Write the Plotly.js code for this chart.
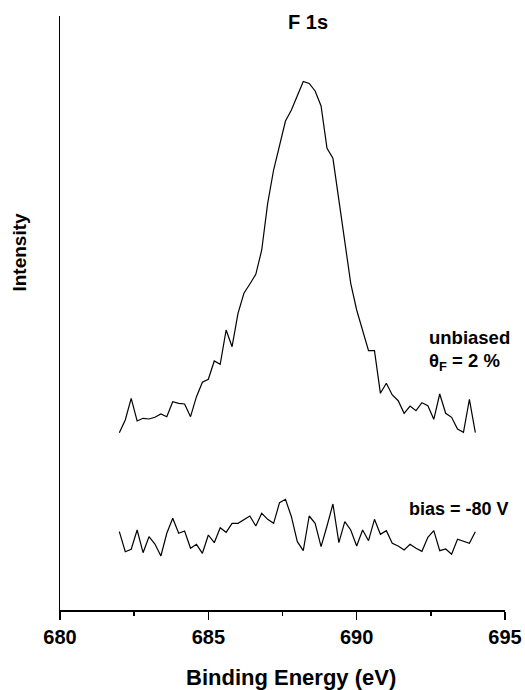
<!DOCTYPE html>
<html>
<head>
<meta charset="utf-8">
<script src="https://cdn.plot.ly/plotly-3.0.1.min.js"></script>
<style>html,body{margin:0;padding:0;background:#fff;}#chart{width:525px;height:690px;}</style>
</head>
<body>
<div id="chart"></div>
<script>
const energy = [682.0,682.2,682.4,682.6,682.8,683.0,683.2,683.4,683.6,683.8,
  684.0,684.2,684.4,684.6,684.8,685.0,685.2,685.4,685.6,685.8,
  686.0,686.2,686.4,686.6,686.8,687.0,687.2,687.4,687.6,687.8,
  688.0,688.2,688.4,688.6,688.8,689.0,689.2,689.4,689.6,689.8,
  690.0,690.2,690.4,690.6,690.8,691.0,691.2,691.4,691.6,691.8,
  692.0,692.2,692.4,692.6,692.8,693.0,693.2,693.4,693.6,693.8,694.0];

const unbiased = [177.3,190,211.7,189,191.7,191,192.7,196,193.3,208.3,
  206.7,206,193.3,213.3,227.7,230.7,249,245.7,280,263.3,
  296.7,316.7,326,335.7,360,406.7,440,465,489,500,
  515,528.5,526.5,519,504,461.7,451.7,410,373.3,326.7,
  300,280,259.3,259.3,216.7,226.7,215,209.3,196.7,204,
  199.3,207.3,204.3,190.7,216,196.7,192.7,181,177.7,210.7,177.3];

const biased = [78.3,58.3,60.7,80,57.3,73.3,66,54,76.7,91.7,
  76.7,79,61.7,65.7,56.7,75,67.3,82.3,77.7,86.7,
  86.7,90,94,84,96.7,90.7,86.7,107.3,110.7,93.3,
  68.3,59.3,94,86.7,63.3,84,106,67.3,88.3,80,
  64,80,69.3,90.7,75.7,79.3,66.7,64,60,65.7,
  61.7,58.7,72.7,79.3,59.3,61,55.7,70.7,69,66.7,78.3];

const xTicks = [680, 685, 690, 695];
const labels = {
  title: "F 1s",
  xTitle: "Binding Energy (eV)",
  yTitle: "Intensity",
  unbiased1: "unbiased",
  unbiased2: "θ<sub>F</sub> = 2 %",
  biased: "bias = -80 V"
};

const font = "Liberation Sans, Arial, sans-serif";
const lineStyle = {color: "#000", width: 1.2};

const traces = [
  {x: energy, y: unbiased, mode: "lines", line: lineStyle, hoverinfo: "none"},
  {x: energy, y: biased, mode: "lines", line: lineStyle, hoverinfo: "none"}
];

const layout = {
  width: 525, height: 690,
  margin: {l: 59.5, r: 20, t: 16, b: 80},
  paper_bgcolor: "#fff", plot_bgcolor: "#fff",
  showlegend: false,
  font: {family: font, color: "#000"},
  xaxis: {
    range: [680, 695], showgrid: false, zeroline: false,
    showline: true, linecolor: "#000", linewidth: 1.5,
    ticks: "outside", ticklen: 8, tickwidth: 1.5, tickcolor: "#000",
    tickvals: xTicks, ticktext: xTicks.map(v => "<b>" + v + "</b>"),
    tickfont: {family: font, size: 20, color: "#000"},
    minor: {dtick: 2.5, ticks: "outside", ticklen: 4, tickwidth: 1.5, tickcolor: "#000", showgrid: false},
    fixedrange: true
  },
  yaxis: {
    range: [0, 594], showgrid: false, zeroline: false,
    showline: true, linecolor: "#000", linewidth: 1.5,
    ticks: "", showticklabels: false, fixedrange: true
  },
  annotations: [
    {text: "<b>" + labels.title + "</b>", xref: "paper", yref: "paper",
     x: (307.5 - 59.5) / 445.5, y: (610 - 22) / 594, xanchor: "center", yanchor: "middle",
     showarrow: false, font: {family: font, size: 20}},
    {text: "<b>" + labels.yTitle + "</b>", xref: "paper", yref: "paper", textangle: -90,
     x: (19 - 59.5) / 445.5, y: (610 - 252) / 594, xanchor: "center", yanchor: "middle",
     showarrow: false, font: {family: font, size: 19}},
    {text: "<b>" + labels.xTitle + "</b>", xref: "paper", yref: "paper",
     x: (291 - 59.5) / 445.5, y: (610 - 677) / 594, xanchor: "center", yanchor: "middle",
     showarrow: false, font: {family: font, size: 22}},
    {text: "<b>" + labels.unbiased1 + "</b>", xref: "paper", yref: "paper",
     x: (427 - 59.5) / 445.5, y: (610 - 337) / 594, xanchor: "left", yanchor: "middle",
     showarrow: false, font: {family: font, size: 18.5}},
    {text: "<b>" + labels.unbiased2 + "</b>", xref: "paper", yref: "paper",
     x: (427 - 59.5) / 445.5, y: (610 - 362) / 594, xanchor: "left", yanchor: "middle",
     showarrow: false, font: {family: font, size: 18.5}},
    {text: "<b>" + labels.biased + "</b>", xref: "paper", yref: "paper",
     x: (407 - 59.5) / 445.5, y: (610 - 509) / 594, xanchor: "left", yanchor: "middle",
     showarrow: false, font: {family: font, size: 18}}
  ]
};

Plotly.newPlot("chart", traces, layout, {staticPlot: true, displayModeBar: false});
</script>
</body>
</html>
